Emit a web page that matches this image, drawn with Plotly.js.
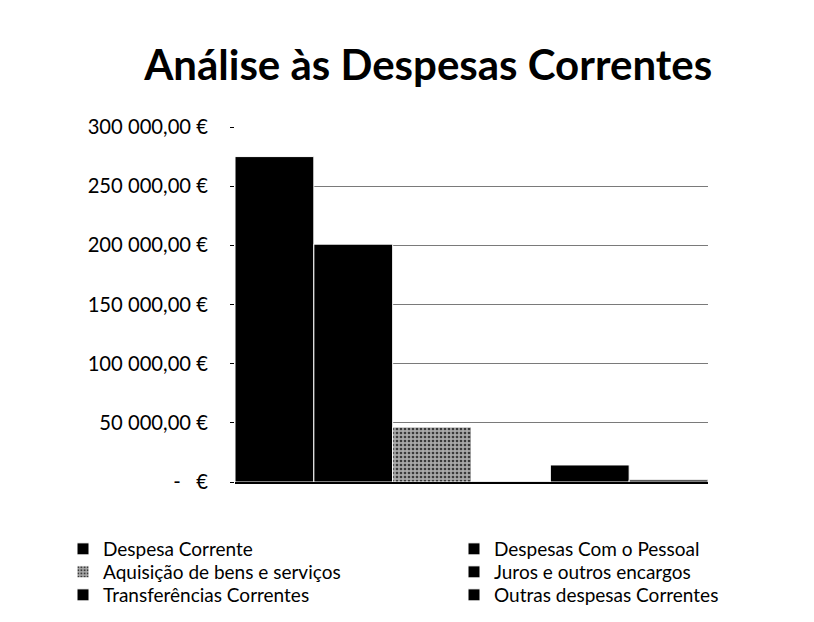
<!DOCTYPE html>
<html>
<head>
<meta charset="utf-8">
<script src="https://cdn.plot.ly/plotly-3.0.1.min.js"></script>
<style>html,body{margin:0;padding:0;background:#fff;}#chart{width:814px;height:622px;}</style>
</head>
<body>
<div id="chart"></div>
<script>
const seriesNames = [
  "Despesa Corrente",
  "Despesas Com o Pessoal",
  "Aquisição de bens e serviços",
  "Juros e outros encargos",
  "Transferências Correntes",
  "Outras despesas Correntes"
];
const seriesValues = [275000, 201000, 46500, 600, 14400, 1800];
const seriesColors = ["#000000", "#000000", "#9a9a9a", "#000000", "#000000", "#000000"];
const tickValues = [0, 50000, 100000, 150000, 200000, 250000, 300000];
const tickLabels = ["-   €", "50 000,00 €", "100 000,00 €", "150 000,00 €", "200 000,00 €", "250 000,00 €", "300 000,00 €"];
const category = [""];

const font = "Lato, 'Open Sans', sans-serif";
const W = 814, H = 622;
// legend slots: two columns, three rows (left column: items 0,2,4; right: 1,3,5)
const legendLeftX = [63, 454];
const legendRowY = [549, 572, 595];

const traces = seriesNames.map((name, i) => {
  const t = {
    type: "bar",
    name: name,
    x: category,
    y: [seriesValues[i]],
    legend: i === 0 ? "legend" : "legend" + (i + 1),
    marker: { color: seriesColors[i], line: { color: "#ffffff", width: 1 } },
    hoverinfo: "name+y"
  };
  if (i === 2) {
    t.marker.pattern = { shape: ".", fgcolor: "#3a3a3a", bgcolor: "#a8a8a8", size: 4, solidity: 0.35 };
  }
  return t;
});

const layout = {
  width: W, height: H,
  paper_bgcolor: "#ffffff", plot_bgcolor: "#ffffff",
  margin: { l: 235, r: 106, t: 127, b: 140, autoexpand: false },
  title: { text: "Análise às Despesas Correntes", font: { family: font, size: 42, color: "#000", weight: "bold" }, x: 0.526, xanchor: "center", y: 0.895, yanchor: "middle" },
  barmode: "group", bargap: 0, bargroupgap: 0,
  showlegend: true,
  xaxis: { showticklabels: false, showline: true, linecolor: "#000", linewidth: 2, ticks: "", showgrid: false, fixedrange: true },
  yaxis: {
    range: [0, 300000], tickmode: "array", tickvals: tickValues, ticktext: tickLabels,
    showline: false, ticks: "outside", ticklen: 4, tickcolor: "#000",
    showgrid: true, gridcolor: "#7a7a7a", gridwidth: 1, zeroline: false,
    tickfont: { family: font, size: 20.2, color: "#000" }, ticklabelstandoff: 18, fixedrange: true
  }
};

seriesNames.forEach((name, i) => {
  const key = i === 0 ? "legend" : "legend" + (i + 1);
  const col = i % 2, row = Math.floor(i / 2);
  layout[key] = {
    xref: "container", yref: "container",
    x: legendLeftX[col] / W, y: 1 - legendRowY[row] / H,
    xanchor: "left", yanchor: "middle",
    bgcolor: "rgba(0,0,0,0)",
    font: { family: font, size: 19, color: "#000" }
  };
});

Plotly.newPlot("chart", traces, layout, { displayModeBar: false, staticPlot: true });
</script>
</body>
</html>
